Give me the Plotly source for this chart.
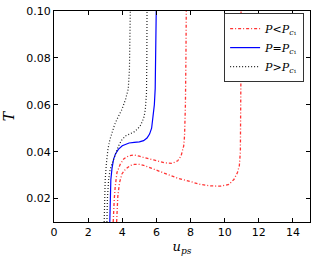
import plotly.graph_objects as go

# Curves (u_ps, T)
u_low1 = [3.47, 3.49, 3.53, 3.59, 3.69, 3.88, 4.10, 4.37, 4.67, 5.00, 5.25, 5.84, 6.30, 6.53, 6.92, 7.25, 7.45, 7.60, 7.65, 7.70, 7.73, 7.75]
T_low1 = [0.010, 0.0147, 0.0197, 0.0253, 0.0311, 0.0346, 0.0370, 0.0382, 0.0386, 0.0381, 0.0375, 0.0365, 0.0356, 0.0352, 0.0350, 0.0361, 0.0383, 0.0425, 0.0468, 0.060, 0.080, 0.100]

u_low2 = [3.67, 3.69, 3.74, 3.84, 3.98, 4.18, 4.45, 4.70, 5.00, 5.25, 5.75, 6.14, 6.50, 6.82, 7.20, 7.51, 8.20, 8.59, 9.18, 9.76, 10.25, 10.55, 10.75, 10.86, 10.92, 10.94, 10.95, 10.96]
T_low2 = [0.010, 0.0154, 0.0211, 0.0268, 0.0305, 0.0325, 0.0340, 0.0346, 0.0346, 0.0342, 0.0328, 0.0318, 0.0308, 0.0296, 0.0288, 0.0282, 0.0268, 0.0260, 0.0254, 0.0253, 0.0260, 0.0282, 0.0311, 0.0340, 0.0400, 0.050, 0.070, 0.100]

u_crit = [3.27, 3.29, 3.33, 3.40, 3.49, 3.60, 3.77, 4.00, 4.18, 4.40, 4.70, 5.00, 5.25, 5.45, 5.60, 5.72, 5.80, 5.88, 5.93, 5.97, 5.99]
T_crit = [0.010, 0.020, 0.028, 0.033, 0.0367, 0.0390, 0.0410, 0.0425, 0.0432, 0.0437, 0.0440, 0.0442, 0.0447, 0.0458, 0.0475, 0.050, 0.055, 0.060, 0.067, 0.085, 0.100]

u_high1 = [2.94, 2.97, 3.00, 3.07, 3.16, 3.27, 3.39, 3.55, 3.69, 3.98, 4.20, 4.35, 4.42, 4.45, 4.47]
T_high1 = [0.010, 0.020, 0.028, 0.035, 0.041, 0.045, 0.0483, 0.0515, 0.0538, 0.058, 0.0625, 0.0667, 0.075, 0.085, 0.100]

u_high2 = [3.10, 3.13, 3.20, 3.28, 3.38, 3.49, 3.60, 3.78, 3.95, 4.18, 4.45, 4.67, 4.90, 5.05, 5.16, 5.28, 5.35, 5.42, 5.44, 5.45]
T_high2 = [0.010, 0.020, 0.028, 0.032, 0.0345, 0.0367, 0.0395, 0.0424, 0.0448, 0.0467, 0.0476, 0.0483, 0.0497, 0.0510, 0.0526, 0.055, 0.058, 0.065, 0.080, 0.100]

x_ticks = [0, 2, 4, 6, 8, 10, 12, 14]
y_ticks = [0.02, 0.04, 0.06, 0.08, 0.10]

lab_low = "<i>P</i><<i>P</i><sub><i>c</i>₁</sub>"
lab_crit = "<i>P</i>=<i>P</i><sub><i>c</i>₁</sub>"
lab_high = "<i>P</i>><i>P</i><sub><i>c</i>₁</sub>"

red = "rgba(255,0,0,0.8)"
fig = go.Figure()
fig.add_trace(go.Scatter(x=u_low1, y=T_low1, mode="lines", name=lab_low, legendgroup="low",
                         line=dict(color=red, width=1.3, dash="3px,2px,1px,2px")))
fig.add_trace(go.Scatter(x=u_low2, y=T_low2, mode="lines", name=lab_low, legendgroup="low", showlegend=False,
                         line=dict(color=red, width=1.3, dash="3px,2px,1px,2px")))
fig.add_trace(go.Scatter(x=u_crit, y=T_crit, mode="lines", name=lab_crit,
                         line=dict(color="blue", width=1.2)))
fig.add_trace(go.Scatter(x=u_high1, y=T_high1, mode="lines", name=lab_high, legendgroup="high",
                         line=dict(color="#222", width=1.2, dash="1px,2px")))
fig.add_trace(go.Scatter(x=u_high2, y=T_high2, mode="lines", name=lab_high, legendgroup="high", showlegend=False,
                         line=dict(color="#222", width=1.2, dash="1px,2px")))

axis_common = dict(showline=True, linecolor="black", linewidth=1, mirror="ticks", ticks="inside",
                   ticklen=4, tickcolor="black", showgrid=False, zeroline=False, automargin=False,
                   ticklabeloverflow="allow",
                   tickfont=dict(family="DejaVu Sans", size=11, color="black"))
fig.update_xaxes(range=[0, 15], tickvals=x_ticks, ticktext=[str(v) for v in x_ticks],
                 title=dict(text="<i>u</i><sub><i>ps</i></sub>", font=dict(family="DejaVu Serif", size=13, color="black"), standoff=2),
                 **axis_common)
fig.update_yaxes(range=[0.01, 0.10], tickvals=y_ticks, ticktext=[f"{v:.2f}" for v in y_ticks],
                 title=dict(text="<i>T</i>", font=dict(family="DejaVu Serif", size=14, color="black"), standoff=8),
                 **axis_common)
fig.update_layout(width=316, height=263, margin=dict(l=54, r=6, t=11, b=41),
                  plot_bgcolor="white", paper_bgcolor="white",
                  legend=dict(x=0.977, y=0.99, xanchor="right", yanchor="top", bgcolor="white",
                              bordercolor="#333", borderwidth=1,
                              font=dict(family="DejaVu Serif", size=11, color="black"),
                              tracegroupgap=0, itemwidth=30))
fig.write_html("out.html", config={"displayModeBar": False},
               post_script="document.body.style.margin='0px';document.body.style.overflow='hidden';")
